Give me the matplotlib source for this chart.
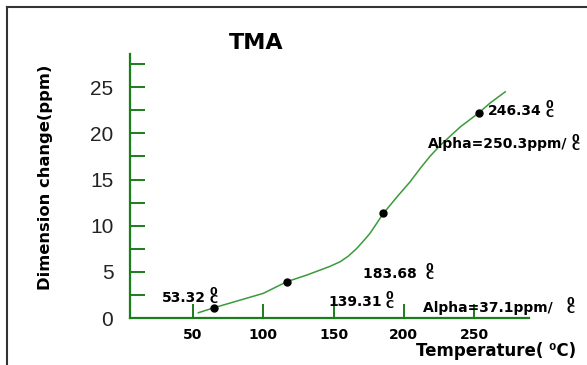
"""
TMA curve: dimension change vs temperature
"""

import matplotlib
matplotlib.use("Agg")
import matplotlib.pyplot as plt
from matplotlib.lines import Line2D
from matplotlib.ticker import MultipleLocator

# Curve
temp = [53.8, 64.9, 100.0, 116.7, 130.9, 140.4, 147.5, 154.6, 160.5, 166.5,
        171.0, 175.9, 185.4, 195.0, 204.4, 211.6, 218.5, 225.8, 240.1,
        253.1, 261.4, 272.1]
change = [0.57, 1.11, 2.67, 3.93, 4.65, 5.19, 5.6, 6.09, 6.7, 7.54,
          8.3, 9.17, 11.33, 13.1, 14.75, 16.2, 17.5, 18.7, 20.7,
          22.2, 23.3, 24.5]

# Marked points
dot_temp = [64.9, 116.7, 185.4, 253.1]
dot_change = [1.11, 3.93, 11.4, 22.2]

# Annotations: text, x, y (each followed by a small "0" over "C")
notes = [
    ("53.32", 27.9, 2.2),
    ("139.31", 146.1, 1.7),
    ("183.68 ", 171.0, 4.8),
    ("Alpha=37.1ppm/  ", 213.7, 1.1),
    ("246.34", 260.0, 22.4),
    ("Alpha=250.3ppm/", 217.3, 18.8),
]

x_ticks = [50, 100, 150, 200, 250]
y_ticks = [0, 5, 10, 15, 20, 25]

GREEN = "#1b7d1b"
CURVE = "#3a9a3a"


def main():
    W, H = 587, 365
    fig = plt.figure(figsize=(W / 100, H / 100), dpi=100)
    ax = fig.add_axes([130 / W, 1 - 318 / H, 399 / W, 264 / H])

    # Curve and dots
    ax.plot(temp, change, color=CURVE, lw=1.1, zorder=2)
    ax.plot(dot_temp, dot_change, "o", color="black", ms=5, zorder=3)

    ax.set_xlim(5.2, 289)
    ax.set_ylim(0, 28.6)

    # Spines
    for side in ["top", "right"]:
        ax.spines[side].set_visible(False)
    for side in ["left", "bottom"]:
        ax.spines[side].set_color(GREEN)
        ax.spines[side].set_linewidth(1.6)

    # Ticks
    ax.set_xticks(x_ticks)
    ax.set_yticks(y_ticks)
    ax.yaxis.set_minor_locator(MultipleLocator(2.5))
    ax.tick_params(axis="x", direction="in", length=10, width=1.4,
                   color=GREEN, pad=7, labelsize=10)
    ax.tick_params(axis="y", which="both", direction="in", length=10.5,
                   width=1.4, color=GREEN, pad=12)
    ax.tick_params(axis="y", which="major", labelsize=15, labelcolor="#222222")
    for lab in ax.get_xticklabels():
        lab.set_fontweight("bold")
    for lab in ax.get_yticklabels():
        lab.set_fontfamily("Liberation Sans")

    # Annotations with a "0" stacked over "C"
    for text, x, y in notes:
        t = ax.text(x, y, text, fontsize=10, fontweight="bold",
                    ha="left", va="center", clip_on=False)
        ax.annotate("0\nC", xy=(1, 0.5), xycoords=t, xytext=(2.5, 1.2),
                    textcoords="offset points", fontsize=8,
                    fontweight="bold", ha="left", va="center",
                    linespacing=0.8)

    # Titles and labels
    fig.text(256 / W, 1 - 43 / H, "TMA", fontsize=16, fontweight="bold",
             ha="center", va="center")
    fig.text(46 / W, 1 - 177 / H, "Dimension change(ppm)", fontsize=11.8,
             fontweight="bold", rotation=90, ha="center", va="center")
    fig.text(496 / W, 1 - 351 / H, "Temperature( \u2070C)", fontsize=12,
             fontweight="bold", ha="center", va="center")

    # Outer frame (left and top edges)
    fig.add_artist(Line2D([7 / W, 7 / W], [0, 1 - 7 / H], color="#333333", lw=1.5))
    fig.add_artist(Line2D([7 / W, 1], [1 - 7 / H, 1 - 7 / H], color="#333333", lw=1.5))

    fig.savefig("out.png", dpi=100)


if __name__ == "__main__":
    main()
